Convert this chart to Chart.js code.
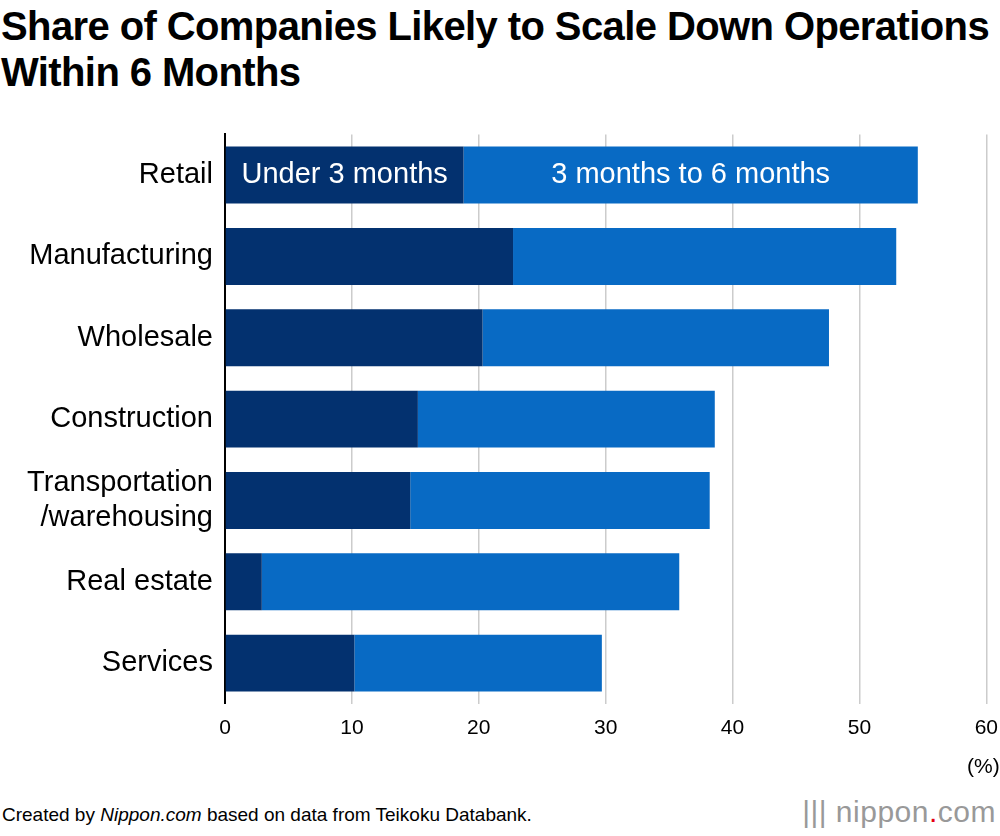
<!DOCTYPE html>
<html>
<head>
<meta charset="utf-8">
<script src="https://cdn.jsdelivr.net/npm/chart.js@4"></script>
<style>
  body { margin: 0; width: 1000px; height: 836px; background: #fff; font-family: "Liberation Sans", Arial, sans-serif; position: relative; overflow: hidden; }
  h1 { position: absolute; left: 1px; top: 3px; margin: 0; font-size: 40px; line-height: 46px; font-weight: bold; color: #000; letter-spacing: -0.6px; }
  #wrap { position: absolute; left: 0; top: 113px; width: 1010px; height: 670px; }
  #foot { position: absolute; left: 2px; top: 804px; font-size: 19px; color: #000; }
  #logo { position: absolute; right: 4px; top: 795px; font-size: 30px; color: #999; letter-spacing: 0.5px; }
  #logo span { color: #e60012; }
</style>
</head>
<body>
<h1>Share of Companies Likely to Scale Down Operations<br>Within 6 Months</h1>
<div id="wrap"><canvas id="chart" width="1010" height="670"></canvas></div>
<div id="foot">Created by <i>Nippon.com</i> based on data from Teikoku Databank.</div>
<div id="logo">||| nippon<span>.</span>com</div>
<script>
const categories = ['Retail', 'Manufacturing', 'Wholesale', 'Construction', ['Transportation', '/warehousing'], 'Real estate', 'Services'];
const under3 = [18.8, 22.7, 20.3, 15.2, 14.6, 2.9, 10.2];
const from3to6 = [35.8, 30.2, 27.3, 23.4, 23.6, 32.9, 19.5];
const seriesNames = ['Under 3 months', '3 months to 6 months'];

const labelPlugin = {
    id: 'labels',
    afterDatasetsDraw(chart) {
        const ctx = chart.ctx;
        ctx.save();
        ctx.fillStyle = '#fff';
        ctx.font = '29px "Liberation Sans", Arial, sans-serif';
        ctx.textAlign = 'center';
        ctx.textBaseline = 'middle';
        chart.data.datasets.forEach((ds, i) => {
            const bar = chart.getDatasetMeta(i).data[0];
            const left = Math.min(bar.x, bar.base);
            const right = Math.max(bar.x, bar.base);
            ctx.fillText(ds.label, (left + right) / 2, bar.y);
        });
        const xs = chart.scales.x;
        ctx.fillStyle = '#000';
        ctx.font = '21px "Liberation Sans", Arial, sans-serif';
        ctx.fillText('(%)', xs.getPixelForValue(60) - 3, xs.bottom + 14);
        ctx.restore();
    }
};

new Chart(document.getElementById('chart').getContext('2d'), {
    type: 'bar',
    data: {
        labels: categories,
        datasets: [
            { label: seriesNames[0], data: under3, backgroundColor: '#03316f' },
            { label: seriesNames[1], data: from3to6, backgroundColor: '#086ac4' }
        ]
    },
    options: {
        indexAxis: 'y',
        responsive: false,
        animation: false,
        maintainAspectRatio: false,
        layout: { padding: { right: 0, top: 10, bottom: 30 } },
        barPercentage: 0.7,
        categoryPercentage: 1,
        plugins: { legend: { display: false }, tooltip: { enabled: false } },
        scales: {
            x: {
                stacked: true,
                min: 0,
                max: 60,
                ticks: { stepSize: 10, color: '#000', font: { size: 21, family: '"Liberation Sans", Arial' }, padding: 12 },
                grid: { color: '#cccccc', lineWidth: 1.5, drawTicks: false },
                border: { display: false }
            },
            y: {
                stacked: true,
                ticks: { color: '#000', font: { size: 29, family: '"Liberation Sans", Arial' }, padding: 4 },
                grid: { display: false },
                border: { display: true, color: '#000', width: 2 },
                afterFit(scale) { scale.width = 225; }
            }
        }
    },
    plugins: [labelPlugin]
});
</script>
</body>
</html>
